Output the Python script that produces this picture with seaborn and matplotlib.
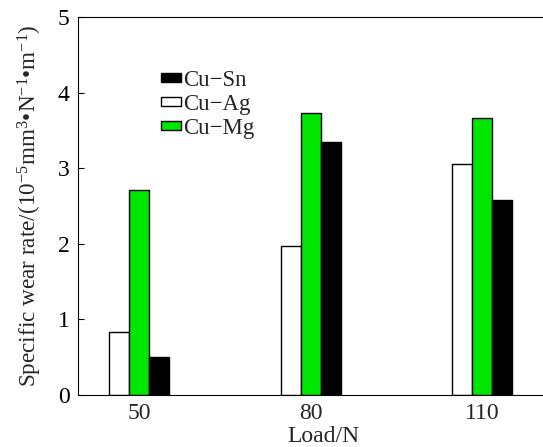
import numpy as np
import pandas as pd
import seaborn as sns
import matplotlib
matplotlib.use("Agg")
import matplotlib.pyplot as plt
from matplotlib.font_manager import FontProperties

# Specific wear rate (10^-5 mm^3 N^-1 m^-1) at each load
loads = ["50", "80", "110"]
alloys = ["Cu\u2212Ag", "Cu\u2212Mg", "Cu\u2212Sn"]
cu_ag = [0.83, 1.97, 3.06]
cu_mg = [2.71, 3.73, 3.66]
cu_sn = [0.50, 3.34, 2.58]
legend_order = ["Cu\u2212Sn", "Cu\u2212Ag", "Cu\u2212Mg"]

df = pd.DataFrame({
    "Load": loads * 3,
    "Alloy": [alloys[0]] * 3 + [alloys[1]] * 3 + [alloys[2]] * 3,
    "Rate": cu_ag + cu_mg + cu_sn,
})

sns.set_theme(style="ticks")
FAMILY = "Liberation Serif"
plt.rcParams["font.family"] = "serif"
plt.rcParams["font.serif"] = [FAMILY, "DejaVu Serif"]
plt.rcParams["mathtext.fontset"] = "custom"
plt.rcParams["mathtext.rm"] = FAMILY
plt.rcParams["mathtext.it"] = FAMILY + ":italic"

fig = plt.figure(figsize=(5.43, 4.47), dpi=100)
ax = fig.add_axes([78 / 543, 1 - 395 / 447, 490 / 543, 378 / 447])

palette = {alloys[0]: "white", alloys[1]: "#00e600", alloys[2]: "black"}
sns.barplot(data=df, x="Load", y="Rate", hue="Alloy", hue_order=alloys,
            order=loads, palette=palette, width=0.35, gap=0,
            edgecolor="black", linewidth=1.0, saturation=1, ax=ax,
            legend=True)

ax.set_xlim(-0.355, 2.5)
ax.set_ylim(0, 5)
ax.set_yticks([0, 1, 2, 3, 4, 5])
ax.tick_params(axis="y", direction="in", length=4, width=0.8,
               labelsize=17, pad=6, colors="black")
ax.tick_params(axis="x", length=0, labelsize=17, pad=6)
for lbl in ax.get_xticklabels() + ax.get_yticklabels():
    lbl.set_fontfamily(FAMILY)
for s in ax.spines.values():
    s.set_linewidth(0.8)
    s.set_color("black")

ax.set_xlabel("Load/N", fontsize=17, labelpad=1.5, fontfamily=FAMILY)
ax.set_ylabel(r"Specific wear rate/(10$^{-5}$mm$^{3}$•N$^{-1}$•m$^{-1}$)",
              fontsize=16.7, labelpad=10, fontfamily=FAMILY)

handles, labels = ax.get_legend_handles_labels()
lookup = dict(zip(labels, handles))
ax.legend([lookup[k] for k in legend_order], legend_order,
          loc="upper left", bbox_to_anchor=(0.147, 0.89), frameon=False,
          prop=FontProperties(family=FAMILY, size=16.5),
          handlelength=0.85, handleheight=0.2,
          handletextpad=0.1, labelspacing=0.12, borderpad=0)

fig.savefig("out.png", dpi=100)
